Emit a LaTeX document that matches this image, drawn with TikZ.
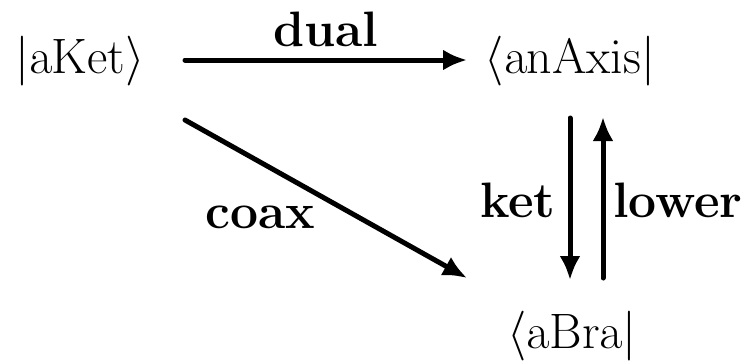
\documentclass[tikz,border=0pt]{standalone}
\usetikzlibrary{arrows.meta}
\begin{document}
\begin{tikzpicture}[x=0.5pt,y=-0.5pt,
  obj/.style={anchor=base,inner sep=0pt,font=\fontsize{24.88}{30}\selectfont},
  lbl/.style={anchor=base,inner sep=0pt,font=\fontsize{24.88}{30}\selectfont\bfseries},
  arr/.style={line width=2.5pt,line cap=round,-{Latex[length=12pt,width=10.5pt]}}]
\useasboundingbox (0,0) rectangle (749,361);
\node[obj] (aKet) at (80,73) {$|\mathrm{aKet}\rangle$};
\node[obj] (anAxis) at (570,73) {$\langle\mathrm{anAxis}|$};
\node[obj] (aBra) at (572,348) {$\langle\mathrm{aBra}|$};
\node[lbl] (ldual) at (326,46) {dual};
\node[lbl] (lcoax) at (260,228) {coax};
\node[lbl] (lket) at (518,217) {ket};
\node[lbl] (llower) at (678,217) {lower};
\draw[arr] ([shift={(105,-13)}]aKet.base) -- ([shift={(-103,-13)}]anAxis.base);
\draw[arr] ([shift={(105,47)}]aKet.base) -- ([shift={(-105,-70)}]aBra.base);
\draw[arr] ([shift={(0,45)}]anAxis.base) -- ([shift={(-2,-68)}]aBra.base);
\draw[arr] ([shift={(31,-70)}]aBra.base) -- ([shift={(33,44)}]anAxis.base);
\end{tikzpicture}
\end{document}
